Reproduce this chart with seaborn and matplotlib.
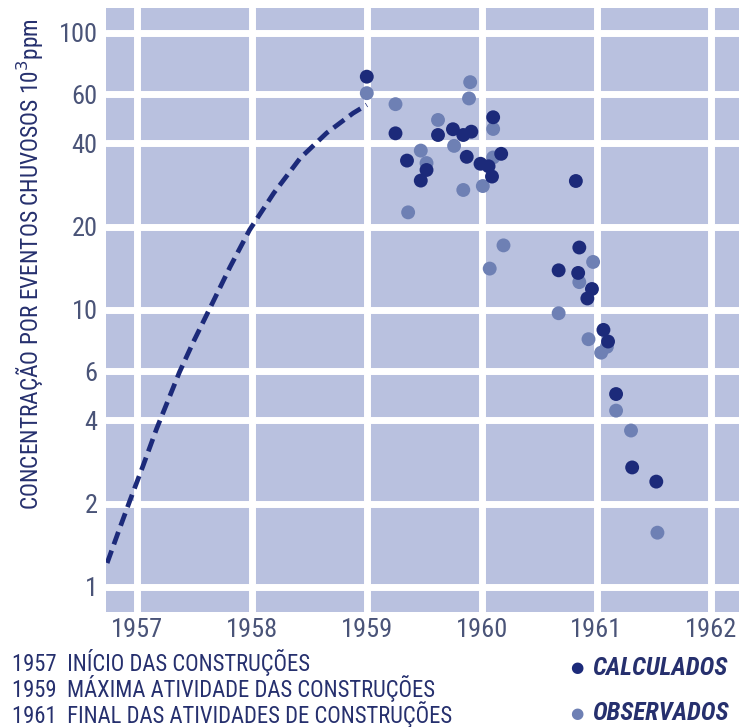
import matplotlib
matplotlib.use("Agg")
import matplotlib.pyplot as plt
import seaborn as sns
import pandas as pd
from matplotlib.ticker import FixedLocator, NullLocator

# ---- data ----
calc_year = [1959.00, 1959.25, 1959.35, 1959.47, 1959.52, 1959.62, 1959.75, 1959.84,
             1959.87, 1959.91, 1959.99, 1960.06, 1960.09, 1960.10, 1960.17,
             1960.82, 1960.85, 1960.67, 1960.84, 1960.96, 1960.92, 1961.06, 1961.10,
             1961.17, 1961.31, 1961.52]
calc_val = [69.5, 43.4, 34.6, 29.3, 32.0, 42.8, 44.9, 42.8,
            35.7, 44.0, 33.7, 33.0, 30.3, 49.6, 36.6,
            29.2, 16.8, 13.9, 13.6, 11.9, 11.0, 8.47, 7.69,
            4.97, 2.70, 2.40]

obs_year = [1959.00, 1959.25, 1959.36, 1959.47, 1959.52, 1959.62, 1959.76, 1959.84,
            1959.89, 1959.90, 1960.01, 1960.07, 1960.10, 1960.10, 1960.19,
            1960.67, 1960.85, 1960.93, 1960.97, 1961.04, 1961.09, 1961.17, 1961.30,
            1961.53]
obs_val = [60.6, 55.3, 22.5, 37.6, 33.9, 48.5, 39.1, 27.1,
           58.0, 66.4, 28.0, 14.1, 45.0, 35.5, 17.1,
           9.73, 12.6, 7.84, 14.9, 7.01, 7.36, 4.33, 3.67,
           1.57]

curve_year = [1956.74, 1956.84, 1956.94, 1957.05, 1957.17, 1957.37, 1957.49,
              1957.64, 1957.81, 1957.98, 1958.19, 1958.42, 1958.65, 1958.88, 1959.00]
curve_val = [1.22, 1.59, 2.06, 2.72, 3.72, 5.97, 7.66,
             10.25, 14.3, 19.45, 26.4, 35.3, 43.5, 51.3, 55.0]

x_ticks = [1957, 1958, 1959, 1960, 1961, 1962]
y_ticks = [1, 2, 4, 6, 10, 20, 40, 60, 100]
y_ticklabels = ["1", "2", "4", "6", "10", "20", "40", "60", "100"]

notes = ["1957  INÍCIO DAS CONSTRUÇÕES",
         "1959  MÁXIMA ATIVIDADE DAS CONSTRUÇÕES",
         "1961  FINAL DAS ATIVIDADES DE CONSTRUÇÕES"]
legend_labels = ["CALCULADOS", "OBSERVADOS"]

# ---- style ----
BG = "#b9c1df"
DARK = "#1c2a7a"
LIGHT = "#6e80b4"
TICKC = "#4a5478"
TEXTC = "#26306e"

sns.set_theme(style="whitegrid", rc={
    "axes.facecolor": BG,
    "grid.color": "white",
    "grid.linewidth": 5.0,
    "axes.edgecolor": BG,
})
FAM = ["Roboto Condensed", "Archivo Narrow", "PT Sans Narrow", "DejaVu Sans"]
plt.rcParams["font.family"] = FAM

fig = plt.figure(figsize=(7.39, 7.27), dpi=100)
ax = fig.add_axes([106 / 739, 1 - 612 / 727, 1 - 106 / 739, (612 - 8) / 727])

ax.set_yscale("log")
ax.set_xlim(1956.73, 1962.24)
ax.set_ylim(0.812, 123)

df_curve = pd.DataFrame({"ano": curve_year, "valor": curve_val})
sns.lineplot(data=df_curve, x="ano", y="valor", ax=ax, color=DARK, lw=3.4,
             sort=False, zorder=3)
ax.lines[-1].set_linestyle((0, (2.8, 1.4)))

df_obs = pd.DataFrame({"ano": obs_year, "valor": obs_val})
df_calc = pd.DataFrame({"ano": calc_year, "valor": calc_val})
sns.scatterplot(data=df_obs, x="ano", y="valor", ax=ax, color=LIGHT, s=100,
                edgecolor="none", zorder=4)
sns.scatterplot(data=df_calc, x="ano", y="valor", ax=ax, color=DARK, s=100,
                edgecolor="none", zorder=5)

ax.xaxis.set_major_locator(FixedLocator(x_ticks))
ax.set_xticklabels([str(t) for t in x_ticks])
ax.yaxis.set_major_locator(FixedLocator(y_ticks))
ax.yaxis.set_minor_locator(NullLocator())
ax.set_yticklabels(y_ticklabels)
ax.grid(True, which="major", color="white", lw=5.0)
ax.set_axisbelow(True)
ax.tick_params(axis="both", length=0, labelsize=19, colors=TICKC)
ax.tick_params(axis="x", pad=4)
ax.tick_params(axis="y", pad=6)
for s in ax.spines.values():
    s.set_visible(False)
ax.set_xlabel("")
ax.set_ylabel("")

fig.text(30 / 739, 1 - 264 / 727, "CONCENTRAÇÃO POR EVENTOS CHUVOSOS 10$^3$ppm",
         rotation=90, ha="center", va="center", fontsize=16.8, color=TEXTC)

for i, t in enumerate(notes):
    fig.text(12 / 739, 1 - (662 + 26.5 * i) / 727, t, ha="left", va="center",
             fontsize=16.3, color=TEXTC)

for i, (lab, c) in enumerate(zip(legend_labels, [DARK, LIGHT])):
    yy = 1 - (668 + 45 * i) / 727
    fig.text(577 / 739, yy, "●", ha="center", va="center", fontsize=11, color=c,
             family=["DejaVu Sans"])
    fig.text(592 / 739, yy, lab, ha="left", va="center", fontsize=18,
             color=TEXTC, fontweight="bold", fontstyle="italic")

fig.savefig("out.png", dpi=100, facecolor="white")
